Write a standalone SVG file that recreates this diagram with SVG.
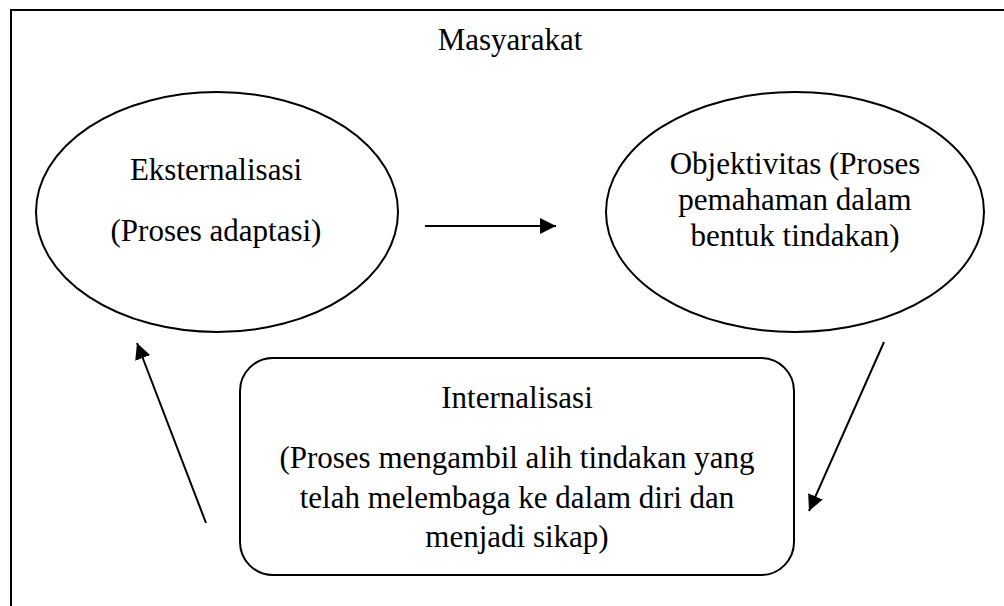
<svg xmlns="http://www.w3.org/2000/svg" width="1004" height="606" viewBox="0 0 1004 606">
<defs>
<marker id="ah" markerUnits="userSpaceOnUse" markerWidth="18" markerHeight="16" refX="16" refY="8" orient="auto">
<path d="M0,0 L16,8 L0,16 Z" fill="#000"/>
</marker>
</defs>
<rect width="1004" height="606" fill="#fff"/>
<g id="frame">
<path d="M11,606 L11,10 L1004,10" fill="none" stroke="#000" stroke-width="2"/>
<text x="510" y="50" font-family="Liberation Serif" font-size="31" text-anchor="middle">Masyarakat</text>
</g>
<g id="node1">
<ellipse cx="217" cy="212" rx="181" ry="120" fill="#fff" stroke="#000" stroke-width="2"/>
<text font-family="Liberation Serif" font-size="31" text-anchor="middle"><tspan x="216" y="180">Eksternalisasi</tspan><tspan x="216" y="241">(Proses adaptasi)</tspan></text>
</g>
<g id="node2">
<ellipse cx="795" cy="212" rx="189" ry="120" fill="#fff" stroke="#000" stroke-width="2"/>
<text font-family="Liberation Serif" font-size="31" text-anchor="middle"><tspan x="795" y="174">Objektivitas (Proses</tspan><tspan x="795" y="210">pemahaman dalam</tspan><tspan x="795" y="246">bentuk tindakan)</tspan></text>
</g>
<g id="node3">
<rect x="240" y="358" width="554" height="217" rx="33" ry="33" fill="#fff" stroke="#000" stroke-width="2"/>
<text font-family="Liberation Serif" font-size="31" text-anchor="middle"><tspan x="517" y="408">Internalisasi</tspan><tspan x="517" y="468">(Proses mengambil alih tindakan yang</tspan><tspan x="517" y="508">telah melembaga ke dalam diri dan</tspan><tspan x="517" y="547">menjadi sikap)</tspan></text>
</g>
<g id="connectors" stroke="#000" stroke-width="2" fill="none">
<line x1="425" y1="226" x2="556" y2="226" marker-end="url(#ah)"/>
<line x1="884" y1="342" x2="809" y2="511" marker-end="url(#ah)"/>
<line x1="206" y1="523" x2="137" y2="343" marker-end="url(#ah)"/>
</g>
</svg>
